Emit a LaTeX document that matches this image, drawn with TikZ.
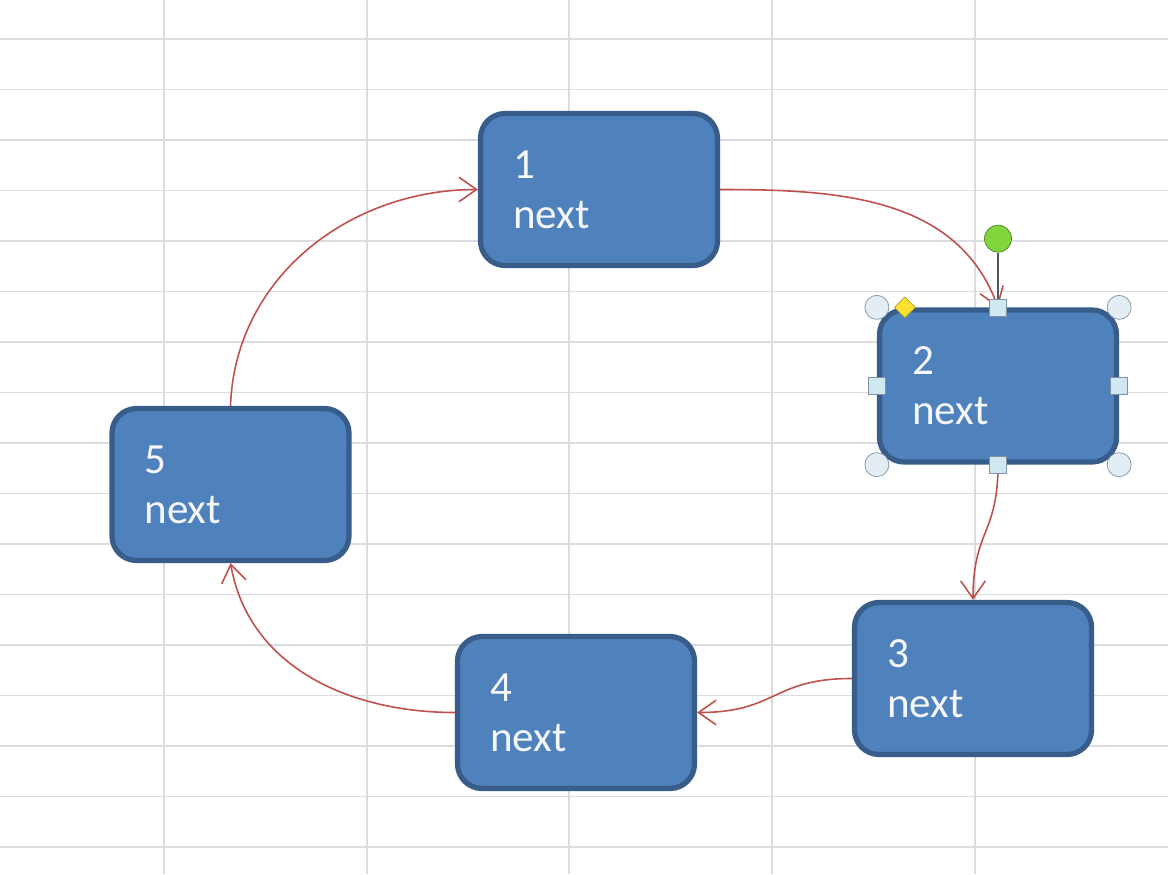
\documentclass[tikz,border=0pt]{standalone}
\usepackage{fontspec}
\usepackage{tikz}
\usetikzlibrary{arrows.meta,positioning,calc,shapes.geometric}
\newfontfamily\boxfont{Carlito}
\definecolor{xlgrid}{RGB}{218,220,226}
\definecolor{xlblue}{RGB}{79,129,189}
\definecolor{xlborder}{RGB}{56,93,138}
\definecolor{xlred}{RGB}{192,80,77}
\definecolor{hdlfill}{RGB}{226,238,244}
\definecolor{hdlside}{RGB}{208,232,242}
\definecolor{hdldraw}{RGB}{128,146,162}
\definecolor{hdlgreen}{RGB}{128,214,60}
\definecolor{hdlyellow}{RGB}{250,226,50}

\begin{document}
\begin{tikzpicture}[
  linkbox/.style={rectangle, rounded corners=14pt, draw=xlborder, fill=xlblue,
                  line width=3pt, minimum width=4.74cm, minimum height=3.04cm,
                  text width=3.44cm, inner xsep=0.65cm, align=left,
                  text=white!94!xlblue, font=\boxfont\fontsize{24.5}{28.5}\selectfont},
  arrow/.style={-{Straight Barb[length=10pt,width=14pt]}, color=xlred, line width=0.9pt},
  gridline/.style={draw=xlgrid, line width=1.1pt},
  cornerhandle/.style={circle, draw=hdldraw, fill=hdlfill, minimum size=0.48cm, inner sep=0pt},
  sidehandle/.style={rectangle, draw=hdldraw, fill=hdlside, minimum size=0.34cm, inner sep=0pt},
  rothandle/.style={circle, draw=hdlgreen!60!black, fill=hdlgreen, minimum size=0.54cm, inner sep=0pt},
  adjhandle/.style={diamond, draw=hdlyellow!70!black, fill=hdlyellow, minimum size=0.42cm, inner sep=0pt}
]
\useasboundingbox (0,0) rectangle (23.36,17.48);

% worksheet grid
\fill[white] (0,0) rectangle (23.36,17.48);
\foreach \x in {3.28,7.34,11.38,15.44,19.50}
  \draw[gridline] (\x,0) -- (\x,17.48);
\foreach \k in {0,...,16}
  \draw[gridline] (0,{16.7-1.01*\k}) -- (23.36,{16.7-1.01*\k});

% list elements
\node[linkbox] (elem1) at (11.98,13.69) {1\\next};
\node[linkbox] (elem2) at (19.96,9.76) {2\\next};
\node[linkbox] (elem3) at (19.46,3.91) {3\\next};
\node[linkbox] (elem4) at (11.52,3.23) {4\\next};
\node[linkbox] (elem5) at (4.61,7.79) {5\\next};

% next pointers
\draw[arrow] (elem1.east) to[out=0, in=110] (elem2.north);
\draw[arrow] (elem2.south) .. controls +(0,-1.4) and +(0,1.4) .. (elem3.north);
\draw[arrow] (elem3.west) .. controls +(-1.6,0) and +(1.6,0) .. (elem4.east);
\draw[arrow] (elem4.west) to[out=180, in=-80] (elem5.south);
\draw[arrow] (elem5.north) to[out=88, in=180] (elem1.west);

% selection handles on element 2
\node[cornerhandle] (h-nw) at (elem2.north west) {};
\node[cornerhandle] (h-ne) at (elem2.north east) {};
\node[cornerhandle] (h-sw) at (elem2.south west) {};
\node[cornerhandle] (h-se) at (elem2.south east) {};
\node[sidehandle] (h-n) at (elem2.north) {};
\node[sidehandle] (h-s) at (elem2.south) {};
\node[sidehandle] (h-w) at (elem2.west) {};
\node[sidehandle] (h-e) at (elem2.east) {};
\node[rothandle, above=0.92cm of h-n] (h-rot) {};
\draw[draw=hdldraw!60!black, line width=0.8pt] (h-rot) -- (h-n);
\node[adjhandle] (h-adj) at ($(elem2.north west)+(0.56,0)$) {};

\end{tikzpicture}
\end{document}
